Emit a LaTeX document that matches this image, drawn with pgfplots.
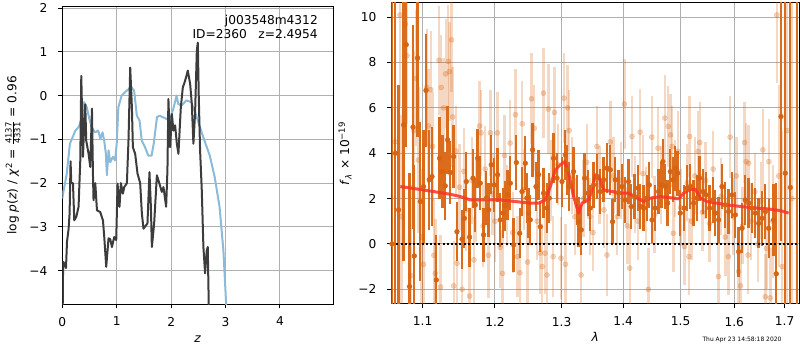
\documentclass[border=0pt]{standalone}
\usepackage{fontspec}
\setmainfont{DejaVu Sans}
\usepackage{pgfplots}
\pgfplotsset{compat=1.18}
\definecolor{pzblue}{RGB}{140,186,217}
\definecolor{pzdark}{RGB}{60,60,60}
\definecolor{dko}{RGB}{214,100,18}
\definecolor{dkbar}{RGB}{219,108,28}
\definecolor{gridgray}{RGB}{176,176,176}
\definecolor{modelred}{RGB}{250,50,40}
\pgfplotsset{
  mystyle/.style={
    scale only axis,
    axis line style={black, line width=1bp},
    grid=major,
    major grid style={gridgray, line width=1bp},
    tick align=outside,
    major tick length=4.3bp,
    tick style={black, line width=1bp},
    tick pos=left,
    tick label style={font=\fontsize{12.25}{14.5}\selectfont},
    label style={font=\fontsize{12.25}{14.5}\selectfont},
    xticklabel style={anchor=north, inner sep=0pt, yshift=-8.5bp},
    yticklabel style={anchor=east, inner sep=0pt, xshift=-10.5bp},
    xlabel style={at={(axis description cs:0.5,0)}, anchor=base, yshift=-38bp},
  }
}
\begin{document}
\fontsize{12.25}{14.5}\selectfont
\begin{tikzpicture}
\useasboundingbox (0,0) rectangle (800bp,350bp);
% ---------------- left panel: p(z)
\begin{axis}[
  mystyle,
  at={(62.3bp,46bp)}, anchor=south west,
  width=271bp, height=297.3bp,
  xmin=0, xmax=4.98, ymin=-4.76, ymax=2.03,
  xtick={0,1,2,3,4}, xticklabels={0,1,2,3,4},
  ytick={-4,-3,-2,-1,0,1,2}, yticklabels={−4,−3,−2,−1,0,1,2},
  xlabel={\textit{z}},
  ylabel={log \textit{p}(\textit{z}) / \textit{χ}\textsuperscript{2} = $\frac{\mbox{\fontsize{8.5}{8.5}\selectfont 4137}}{\mbox{\fontsize{8.5}{8.5}\selectfont 4331}}$ = 0.96},
  ylabel style={at={(axis description cs:-0.182,0.5)}, anchor=center},
]
\addplot[pzblue, line width=2bp, line join=round] coordinates {
(0.00,-2.35)(0.02,-2.2)(0.08,-1.8)(0.14,-1.1)(0.19,-0.95)(0.24,-0.8)(0.30,-0.72)(0.35,-0.57)(0.40,-0.15)(0.45,-0.27)(0.50,-0.55)(0.54,-0.72)(0.60,-0.84)(0.66,-0.80)(0.70,-0.99)(0.74,-0.84)(0.77,-1.03)(0.80,-1.32)(0.82,-1.82)(0.85,-1.25)(0.88,-1.52)(0.93,-1.40)(0.97,-1.48)(1.00,-1.10)(1.03,-0.27)(1.09,0.0)(1.18,0.11)(1.27,0.19)(1.32,0.11)(1.37,-0.46)(1.42,-0.57)(1.46,-1.03)(1.52,-1.18)(1.58,-1.37)(1.64,-1.37)(1.68,-1.10)(1.74,-0.49)(1.79,-0.46)(1.91,-0.53)(1.97,-0.57)(2.04,-0.30)(2.10,0.0)(2.13,-0.19)(2.19,-0.23)(2.28,-0.11)(2.37,-0.15)(2.47,-0.49)(2.59,-0.95)(2.71,-1.37)(2.80,-1.86)(2.89,-2.54)(2.96,-3.53)(3.01,-4.74)(3.04,-5.3)
};
\addplot[pzdark, line width=2bp, line join=round] coordinates {
(0.005,-5.2)(0.015,-3.8)(0.037,-3.83)(0.068,-3.94)(0.086,-3.34)(0.116,-3.04)(0.134,-2.7)(0.152,-1.5)(0.165,-2.0)(0.196,-2.0)(0.220,-2.85)(0.257,-2.77)(0.299,-2.54)(0.330,-1.5)(0.349,0.45)(0.380,-1.4)(0.404,-0.6)(0.422,-0.2)(0.440,-1.03)(0.483,-1.33)(0.514,-1.63)(0.545,-0.30)(0.563,-1.78)(0.574,-2.39)(0.606,-2.0)(0.637,-2.62)(0.697,-2.66)(0.747,-2.85)(0.771,-3.23)(0.807,-3.91)(0.850,-3.26)(0.881,-3.28)(0.912,-3.46)(0.954,-3.23)(0.991,-3.30)(1.015,-2.01)(1.051,-2.54)(1.077,-2.0)(1.114,-2.24)(1.138,-2.09)(1.187,-2.0)(1.217,-1.0)(1.248,0.64)(1.279,-0.27)(1.297,-1.18)(1.339,-1.33)(1.382,-1.78)(1.431,-2.0)(1.462,-2.69)(1.492,-3.04)(1.541,-2.96)(1.565,-2.92)(1.602,-1.75)(1.628,-2.54)(1.646,-3.46)(1.688,-2.92)(1.738,-1.82)(1.785,-2.01)(1.829,-2.20)(1.859,-2.09)(1.908,-2.54)(1.932,-1.71)(1.950,-0.08)(1.982,-1.18)(2.013,-0.42)(2.042,-0.8)(2.073,-0.68)(2.105,-1.10)(2.134,-1.33)(2.178,-0.27)(2.215,0.19)(2.239,0.27)(2.275,0.42)(2.306,0.57)(2.349,0.27)(2.380,-0.19)(2.409,-1.10)(2.440,-0.4)(2.472,1.02)(2.490,1.21)(2.508,-0.04)(2.532,-1.25)(2.563,-2.16)(2.593,-3.46)(2.624,-4.06)(2.655,-3.53)(2.673,-3.46)(2.697,-5.2)
};
\node[anchor=north east, align=right, inner sep=0pt, font=\fontsize{12.25}{14.5}\selectfont] at (rel axis cs:0.9435,0.972) {j003548m4312\\ID=2360\hspace{0.95em}z=2.4954};
\end{axis}
% ---------------- right panel: spectrum
\begin{axis}[
  mystyle,
  at={(391.3bp,46bp)}, anchor=south west,
  width=408bp, height=301.3bp,
  xmode=log,
  xmin=1.0594, xmax=1.7303, ymin=-2.65, ymax=10.64,
  xtick={1.1,1.2,1.3,1.4,1.5,1.6,1.7}, xticklabels={1.1,1.2,1.3,1.4,1.5,1.6,1.7},
  minor xtick={},
  ytick={-2,0,2,4,6,8,10}, yticklabels={−2,0,2,4,6,8,10},
  xlabel={\textit{λ}},
  ylabel={\textit{f}\textsubscript{\textit{λ}} × 10\textsuperscript{−19}},
  ylabel style={at={(axis description cs:-0.1135,0.5)}, anchor=center},
]
% faint points
\addplot[color=dko, only marks, mark=*, mark size=2.6bp,
  mark options={solid, draw=none, fill=dko, fill opacity=0.28, opacity=0.28},
  error bars/.cd, y dir=both, y explicit, error mark=none,
  error bar style={solid, line width=2.4bp, color=dko, opacity=0.25}]
  table[x=l, y=f, y error=e] {
l f e
1.0640 4.5 6.5
1.0705 10.1 4.0
1.0725 1.2 4.5
1.0775 9.7 3.5
1.0795 8.3 3.0
1.0845 -1.4 4.0
1.0885 5.0 3.5
1.0915 7.3 3.0
1.0945 3.7 3.2
1.0985 0.3 3.0
1.1012 -0.9 3.0
1.1055 6.9 2.6
1.1080 5.2 2.5
1.1110 6.8 2.6
1.1135 4.3 2.4
1.1150 -0.5 2.5
1.1170 -1.3 2.4
1.1220 8.1 2.4
1.1240 -1.9 2.3
1.1250 6.9 2.3
1.1280 6.0 2.2
1.1310 7.5 2.4
1.1345 8.05 2.5
1.1360 7.6 2.2
1.1390 9.0 2.3
1.1405 5.6 2.2
1.1420 -1.85 2.0
1.1450 4.1 2.0
1.1465 -0.85 2.0
1.1500 2.5 1.9
1.1535 -2.0 2.0
1.1560 3.2 1.9
1.1590 1.5 1.8
1.1640 -2.3 2.0
1.1670 2.8 1.9
1.1700 -0.7 1.9
1.1730 1.9 1.8
1.1780 5.2 2.0
1.1800 4.9 1.9
1.1830 0.8 1.8
1.1860 3.3 1.9
1.1905 -0.5 1.9
1.1935 4.9 1.9
1.1965 2.2 1.8
1.2000 1.0 1.8
1.2035 4.9 1.8
1.2075 -0.15 1.8
1.2110 -1.3 1.9
1.2140 3.9 1.8
1.2175 1.7 1.8
1.2220 4.45 1.9
1.2260 0.5 1.8
1.2300 5.7 2.0
1.2330 -0.56 1.8
1.2365 -1.27 1.9
1.2400 5.3 1.9
1.2430 2.4 1.8
1.2480 -0.8 1.8
1.2540 6.4 2.0
1.2580 5.1 1.9
1.2625 1.0 1.7
1.2670 -0.4 1.8
1.2700 -1.0 1.9
1.2720 6.65 2.0
1.2745 -0.41 1.8
1.2775 -1.37 1.9
1.2795 5.95 2.0
1.2840 2.8 1.8
1.2870 -0.56 1.8
1.2890 5.8 2.0
1.2940 3.5 1.8
1.2990 -0.63 1.8
1.3040 6.43 2.0
1.3060 -0.9 1.8
1.3095 6.0 1.9
1.3120 5.0 1.8
1.3160 3.0 1.7
1.3210 1.2 1.7
1.3310 -1.37 1.8
1.3350 2.0 1.7
1.3400 3.6 1.7
1.3450 1.2 1.7
1.3500 0.5 1.7
1.3565 4.3 1.8
1.3610 2.6 1.7
1.3680 1.5 1.7
1.3730 -0.49 1.8
1.3785 4.5 1.8
1.3840 3.0 1.7
1.3900 1.2 1.7
1.3960 2.8 1.7
1.4020 6.17 2.0
1.4070 0.8 1.7
1.4110 -1.07 1.8
1.4150 4.74 1.8
1.4200 2.2 1.7
1.4250 1.0 1.7
1.4290 4.93 1.9
1.4340 3.1 1.7
1.4390 1.7 1.7
1.4430 -2.0 1.8
1.4490 4.71 1.8
1.4540 1.3 1.7
1.4600 4.22 1.8
1.4650 2.6 1.7
1.4720 5.55 1.9
1.4780 5.18 1.8
1.4820 4.81 1.8
1.4850 4.30 1.8
1.4870 0.47 1.7
1.4900 2.9 1.7
1.4950 4.08 1.8
1.5000 1.6 1.7
1.5070 -0.12 1.7
1.5120 2.7 1.7
1.5150 -0.56 1.7
1.5165 4.74 1.8
1.5200 1.0 1.7
1.5260 3.0 1.7
1.5320 4.08 1.8
1.5350 4.47 1.8
1.5400 1.4 1.7
1.5460 2.8 1.7
1.5530 0.9 1.7
1.5600 3.3 1.7
1.5700 -1.44 1.8
1.5750 2.1 1.7
1.5830 0.3 1.7
1.5890 -0.56 1.7
1.5920 4.71 1.8
1.5980 1.2 1.7
1.6040 3.0 1.7
1.6084 -1.22 1.8
1.6120 -1.85 1.8
1.6160 0.8 1.7
1.6200 4.47 1.8
1.6230 3.63 1.7
1.6270 -0.49 1.7
1.6280 3.56 1.7
1.6330 1.0 1.7
1.6400 2.3 1.7
1.6460 0.0 1.7
1.6520 1.9 1.7
1.6560 4.15 1.8
1.6610 -2.33 1.9
1.6630 -0.19 1.8
1.6680 3.63 1.9
1.6710 -2.38 2.2
1.6760 1.0 2.5
1.6840 10.1 3.0
1.6880 3.0 4.0
1.6950 -1.0 6.0
1.7050 5.0 8.0
1.7150 2.0 10.0
};
% strong points
\addplot[color=dko, only marks, mark=*, mark size=2.4bp,
  mark options={solid, draw=none, fill=dko},
  error bars/.cd, y dir=both, y explicit, error mark=none,
  error bar style={solid, line width=2.3bp, color=dkbar}]
  table[x=l, y=f, y error=e] {
l f e
1.0603 0.0 15
1.0645 4.0 12
1.0687 1.50 5.5
1.0752 5.25 6.0
1.0786 8.79 4.5
1.0829 -1.88 5.0
1.0874 5.15 4.5
1.0891 -0.53 4.0
1.0934 8.20 3.5
1.0970 1.87 3.5
1.1013 2.53 2.5
1.1045 6.77 2.5
1.1089 2.83 2.2
1.1125 2.97 2.2
1.1183 -1.59 2.0
1.1227 3.78 1.8
1.1268 3.19 1.6
1.1304 2.56 1.5
1.1336 4.59 1.5
1.1373 3.15 1.4
1.1418 3.85 1.4
1.1464 0.54 1.3
1.1534 0.21 1.3
1.1566 1.13 1.3
1.1593 2.75 1.3
1.1639 0.30 1.3
1.1687 2.90 1.3
1.1720 1.72 1.2
1.1752 3.78 1.3
1.1790 2.68 1.2
1.1837 0.40 1.2
1.1876 2.02 1.2
1.1909 1.50 1.2
1.1947 3.49 1.3
1.1990 2.60 1.2
1.2038 3.05 1.2
1.2077 1.06 1.2
1.2116 1.36 1.1
1.2150 1.68 1.1
1.2184 2.16 1.1
1.2223 2.68 1.2
1.2272 -0.04 1.2
1.2312 3.59 1.2
1.2361 0.47 1.1
1.2396 2.31 1.1
1.2446 3.56 1.2
1.2470 2.02 1.1
1.2495 1.36 1.1
1.2520 1.06 1.1
1.2555 4.15 1.2
1.2607 2.53 1.1
1.2646 3.05 1.1
1.2672 0.76 1.1
1.2722 2.24 1.1
1.2775 1.58 1.1
1.2810 2.02 1.1
1.2876 3.78 1.1
1.2929 2.90 1.1
1.3007 2.75 1.1
1.3059 3.93 1.1
1.3086 3.27 1.1
1.3122 2.53 1.1
1.3190 3.19 1.1
1.3244 1.94 1.1
1.3269 0.98 1.1
1.3312 0.62 1.1
1.3365 2.90 1.1
1.3420 2.24 1.0
1.3457 1.58 1.0
1.3511 2.60 1.0
1.3566 2.97 1.0
1.3620 2.31 1.0
1.3674 2.83 1.0
1.3730 3.34 1.1
1.3785 3.27 1.1
1.3823 0.98 1.0
1.3868 2.83 1.0
1.3923 2.24 1.0
1.3980 2.53 1.0
1.4036 1.94 1.0
1.4091 2.75 1.0
1.4137 1.65 1.0
1.4193 2.09 1.0
1.4252 2.46 1.0
1.4291 1.65 1.0
1.4348 1.58 1.0
1.4407 2.02 1.0
1.4447 2.60 1.0
1.4494 1.06 1.0
1.4551 1.58 1.0
1.4609 2.31 1.0
1.4660 2.60 1.0
1.4685 3.63 1.0
1.4727 2.53 1.0
1.4768 1.80 1.0
1.4816 3.19 1.0
1.4864 2.83 1.0
1.4905 3.34 1.0
1.4947 3.12 1.0
1.4995 1.36 1.0
1.5067 1.58 1.0
1.5117 2.46 1.0
1.5177 2.53 1.0
1.5237 1.80 1.0
1.5299 2.02 1.0
1.5347 2.90 1.0
1.5410 2.31 1.0
1.5471 2.16 1.0
1.5533 1.58 1.0
1.5597 1.94 1.0
1.5640 1.36 1.0
1.5702 1.06 1.0
1.5766 2.53 1.0
1.5829 1.72 1.0
1.5892 1.43 1.0
1.5957 2.16 1.0
1.6021 1.28 1.0
1.6084 -0.34 1.1
1.6150 0.69 1.1
1.6214 1.94 1.1
1.6279 1.80 1.1
1.6345 1.58 1.1
1.6410 1.36 1.1
1.6476 0.91 1.1
1.6543 1.13 1.2
1.6609 1.43 1.2
1.6675 0.69 1.3
1.6775 1.06 1.6
1.6830 -1.32 4.0
1.6925 5.62 5.5
1.7013 3.12 14
1.7116 2.49 14
1.7255 12 20
};
% model
\addplot[modelred, opacity=0.85, line width=3bp, line join=round] coordinates {
(1.0709,2.53)(1.1013,2.38)(1.1373,2.19)(1.1510,2.09)(1.1649,1.94)(1.2077,1.94)(1.2521,1.80)(1.2647,1.80)(1.2749,1.94)(1.2826,2.53)(1.2903,3.27)(1.2981,3.49)(1.3048,3.63)(1.3111,3.12)(1.3190,2.09)(1.3270,1.36)(1.3324,1.80)(1.3430,1.94)(1.3485,2.38)(1.3539,3.05)(1.3593,2.97)(1.3675,2.38)(1.3813,2.31)(1.3980,2.24)(1.4092,2.24)(1.4235,2.02)(1.4348,1.87)(1.4465,2.02)(1.4640,2.09)(1.4965,1.99)(1.5056,2.24)(1.5178,2.41)(1.5269,2.41)(1.5361,2.02)(1.5486,1.87)(1.5862,1.72)(1.6248,1.62)(1.6710,1.53)(1.6912,1.47)(1.7082,1.36)
};
\addplot[black, line width=2bp, dash pattern=on 2bp off 2.2bp] coordinates {(1.05,0) (1.74,0)};
\end{axis}
\node[anchor=base, font=\fontsize{6}{7}\selectfont] at (742bp,8.3bp) {Thu Apr 23 14:58:18 2020};
\end{tikzpicture}
\end{document}
